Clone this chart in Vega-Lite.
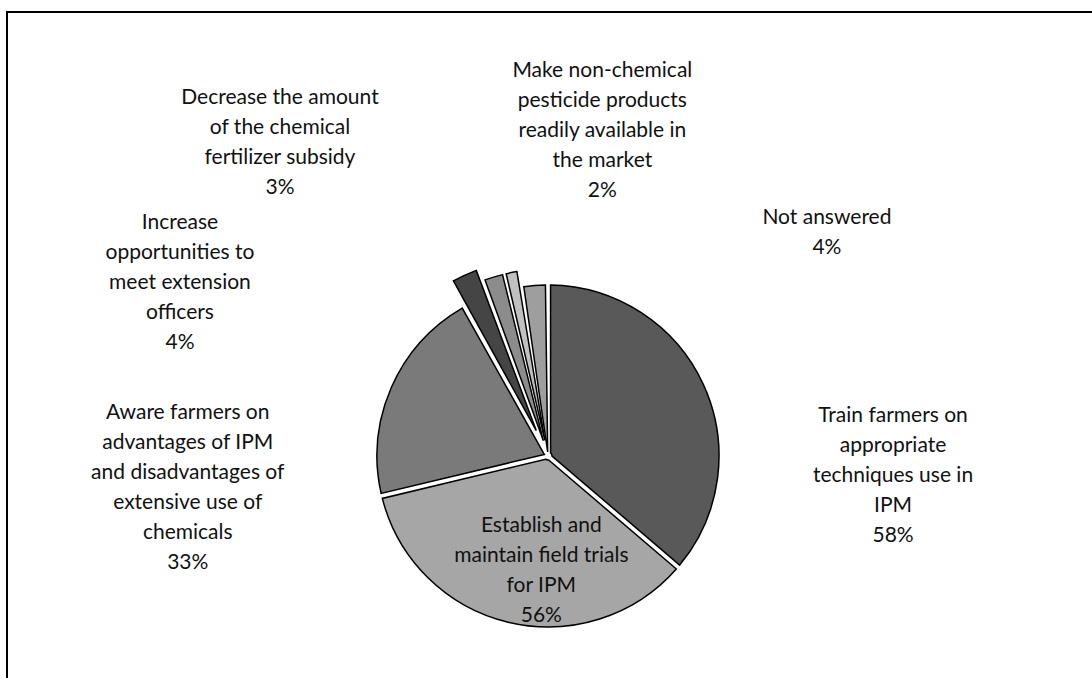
{
  "$schema": "https://vega.github.io/schema/vega-lite/v6.json",
  "width": 1100,
  "height": 888,
  "autosize": {"type": "none"},
  "padding": {"left": 7, "top": 12, "right": 0, "bottom": 0},
  "background": "white",
  "view": {"stroke": "black", "strokeWidth": 2, "fill": "white"},
  "config": {
    "view": {"stroke": "black", "strokeWidth": 2, "fill": "white"},
    "text": {"font": "Lato", "fontSize": 21, "lineHeight": 30, "lineBreak": "\n", "fill": "#111111", "align": "center", "baseline": "alphabetic"}
  },
  "data": {
    "values": [
      {"category": "Train farmers on appropriate techniques use in IPM", "value": 58, "label": "Train farmers on\nappropriate\ntechniques use in\nIPM\n58%"},
      {"category": "Establish and maintain field trials for IPM", "value": 56, "label": "Establish and\nmaintain field trials\nfor IPM\n56%"},
      {"category": "Aware farmers on advantages of IPM and disadvantages of extensive use of chemicals", "value": 33, "label": "Aware farmers on\nadvantages of IPM\nand disadvantages of\nextensive use of\nchemicals\n33%"},
      {"category": "Increase opportunities to meet extension officers", "value": 4, "label": "Increase\nopportunities to\nmeet extension\nofficers\n4%"},
      {"category": "Decrease the amount of the chemical fertilizer subsidy", "value": 3, "label": "Decrease the amount\nof the chemical\nfertilizer subsidy\n3%"},
      {"category": "Make non-chemical pesticide products readily available in the market", "value": 2, "label": "Make non-chemical\npesticide products\nreadily available in\nthe market\n2%"},
      {"category": "Not answered", "value": 4, "label": "Not answered\n4%"}
    ]
  },
  "transform": [
    {"window": [{"op": "row_number", "as": "idx"}]},
    {"stack": "value", "groupby": [], "sort": [{"field": "idx", "order": "ascending"}], "as": ["start", "end"]}
  ],
  "layer": [
    {
      "transform": [{"filter": {"field": "category", "oneOf": ["Train farmers on appropriate techniques use in IPM", "Establish and maintain field trials for IPM", "Aware farmers on advantages of IPM and disadvantages of extensive use of chemicals", "Not answered"]}}],
      "mark": {"type": "arc", "innerRadius": 4, "outerRadius": 171, "padAngle": 0.03, "stroke": "black", "strokeWidth": 1.5, "xOffset": -9},
      "encoding": {
        "theta": {"field": "start", "type": "quantitative"},
        "theta2": {"field": "end"},
        "color": {"field": "category", "type": "nominal", "legend": null,
          "scale": {"domain": ["Train farmers on appropriate techniques use in IPM", "Establish and maintain field trials for IPM", "Aware farmers on advantages of IPM and disadvantages of extensive use of chemicals", "Increase opportunities to meet extension officers", "Decrease the amount of the chemical fertilizer subsidy", "Make non-chemical pesticide products readily available in the market", "Not answered"],
                    "range": ["#595959", "#A6A6A6", "#7A7A7A", "#454545", "#8C8C8C", "#C0C0C0", "#9E9E9E"]}}
      }
    },
    {
      "transform": [{"filter": {"field": "category", "oneOf": ["Decrease the amount of the chemical fertilizer subsidy", "Make non-chemical pesticide products readily available in the market"]}}],
      "mark": {"type": "arc", "innerRadius": 16, "outerRadius": 187, "padAngle": 0.02, "stroke": "black", "strokeWidth": 1.5, "xOffset": -9},
      "encoding": {
        "theta": {"field": "start", "type": "quantitative"},
        "theta2": {"field": "end"},
        "color": {"field": "category", "type": "nominal", "legend": null}
      }
    },
    {
      "transform": [{"filter": {"field": "category", "equal": "Increase opportunities to meet extension officers"}}],
      "mark": {"type": "arc", "innerRadius": 28, "outerRadius": 199, "padAngle": 0.03, "stroke": "black", "strokeWidth": 1.5, "xOffset": -9},
      "encoding": {
        "theta": {"field": "start", "type": "quantitative"},
        "theta2": {"field": "end"},
        "color": {"field": "category", "type": "nominal", "legend": null}
      }
    },
    {
      "mark": {"type": "text", "radius": 326, "dx": 49, "dy": 102, "xOffset": -9},
      "encoding": {
        "theta": {"field": "value", "type": "quantitative", "stack": true},
        "order": {"field": "idx", "type": "quantitative"},
        "text": {"condition": {"test": "datum.category === 'Train farmers on appropriate techniques use in IPM'", "field": "label", "type": "nominal"}, "value": ""}
      }
    },
    {
      "mark": {"type": "text", "radius": 80, "dx": 12, "dy": -2, "xOffset": -9},
      "encoding": {
        "theta": {"field": "value", "type": "quantitative", "stack": true},
        "order": {"field": "idx", "type": "quantitative"},
        "text": {"condition": {"test": "datum.category === 'Establish and maintain field trials for IPM'", "field": "label", "type": "nominal"}, "value": ""}
      }
    },
    {
      "mark": {"type": "text", "radius": 343, "dx": -46, "dy": 100, "xOffset": -9},
      "encoding": {
        "theta": {"field": "value", "type": "quantitative", "stack": true},
        "order": {"field": "idx", "type": "quantitative"},
        "text": {"condition": {"test": "datum.category === 'Aware farmers on advantages of IPM and disadvantages of extensive use of chemicals'", "field": "label", "type": "nominal"}, "value": ""}
      }
    },
    {
      "mark": {"type": "text", "radius": 356, "dx": -219, "dy": 96, "xOffset": -9},
      "encoding": {
        "theta": {"field": "value", "type": "quantitative", "stack": true},
        "order": {"field": "idx", "type": "quantitative"},
        "text": {"condition": {"test": "datum.category === 'Increase opportunities to meet extension officers'", "field": "label", "type": "nominal"}, "value": ""}
      }
    },
    {
      "mark": {"type": "text", "radius": 410, "dx": -149, "dy": 40, "xOffset": -9},
      "encoding": {
        "theta": {"field": "value", "type": "quantitative", "stack": true},
        "order": {"field": "idx", "type": "quantitative"},
        "text": {"condition": {"test": "datum.category === 'Decrease the amount of the chemical fertilizer subsidy'", "field": "label", "type": "nominal"}, "value": ""}
      }
    },
    {
      "mark": {"type": "text", "radius": 357, "dx": 124, "dy": -29, "xOffset": -9},
      "encoding": {
        "theta": {"field": "value", "type": "quantitative", "stack": true},
        "order": {"field": "idx", "type": "quantitative"},
        "text": {"condition": {"test": "datum.category === 'Make non-chemical pesticide products readily available in the market'", "field": "label", "type": "nominal"}, "value": ""}
      }
    },
    {
      "mark": {"type": "text", "radius": 205, "dx": 295, "dy": -28, "xOffset": -9},
      "encoding": {
        "theta": {"field": "value", "type": "quantitative", "stack": true},
        "order": {"field": "idx", "type": "quantitative"},
        "text": {"condition": {"test": "datum.category === 'Not answered'", "field": "label", "type": "nominal"}, "value": ""}
      }
    }
  ]
}
